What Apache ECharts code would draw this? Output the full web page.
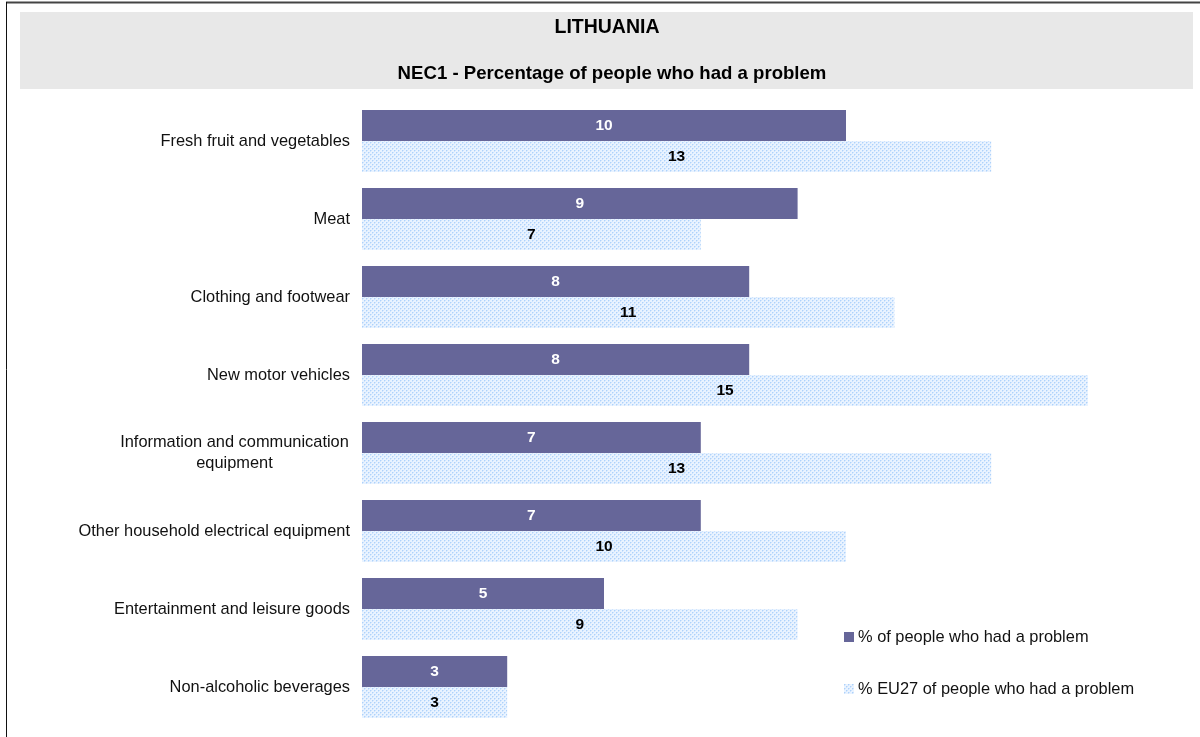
<!DOCTYPE html>
<html>
<head>
<meta charset="utf-8">
<style>
  html, body { margin: 0; padding: 0; background: #fff; }
  #chart { width: 1200px; height: 737px; }
</style>
<script src="https://cdn.jsdelivr.net/npm/echarts@6/dist/echarts.min.js"></script>
</head>
<body>
<div id="chart"></div>
<script>
// Product categories, top to bottom
const categories = [
  'Fresh fruit and vegetables',
  'Meat',
  'Clothing and footwear',
  'New motor vehicles',
  'Information and communication\nequipment',
  'Other household electrical equipment',
  'Entertainment and leisure goods',
  'Non-alcoholic beverages'
];
const seriesNames = ['% of people who had a problem', '% EU27 of people who had a problem'];
const countryValues = [10, 9, 8, 8, 7, 7, 5, 3];
const eu27Values = [13, 7, 11, 15, 13, 10, 9, 3];
const titleText = 'LITHUANIA';
const subtitleText = 'NEC1 - Percentage of people who had a problem';

const FONT = 'Arial, "Liberation Sans", sans-serif';

// Light blue dotted fill for the EU27 bars
function dotPattern() {
  const c = document.createElement('canvas');
  c.width = 4; c.height = 4;
  const g = c.getContext('2d');
  g.fillStyle = '#e9f3ff';
  g.fillRect(0, 0, 4, 4);
  g.fillStyle = '#aed2fb';
  g.fillRect(0, 0, 1, 1);
  g.fillRect(2, 2, 1, 1);
  g.fillStyle = '#cfe4fd';
  g.fillRect(1, 0, 1, 1);
  g.fillRect(3, 2, 1, 1);
  g.fillRect(0, 1, 1, 1);
  g.fillRect(2, 3, 1, 1);
  return c;
}

const chart = echarts.init(document.getElementById('chart'), null, { renderer: 'canvas' });

chart.setOption({
  animation: false,
  backgroundColor: '#ffffff',
  graphic: [
    { type: 'rect', shape: { x: 20, y: 12, width: 1173, height: 77 }, style: { fill: '#e8e8e8' }, z: -10 },
    { type: 'line', shape: { x1: 6, y1: 2.5, x2: 1200, y2: 2.5 }, style: { stroke: '#444', lineWidth: 2 } },
    { type: 'line', shape: { x1: 6.5, y1: 2, x2: 6.5, y2: 737 }, style: { stroke: '#111', lineWidth: 1 } },
    { type: 'text', x: 607, y: 28, style: { text: titleText, font: 'bold 19.5px ' + FONT, fill: '#000', align: 'center', verticalAlign: 'middle' } },
    { type: 'text', x: 612, y: 74, style: { text: subtitleText, font: 'bold 18.6px ' + FONT, fill: '#000', align: 'center', verticalAlign: 'middle' } }
  ],
  grid: { left: 362, top: 102, width: 774.4, height: 624, containLabel: false },
  xAxis: {
    type: 'value', min: 0, max: 16, show: false
  },
  yAxis: {
    type: 'category',
    inverse: true,
    data: categories,
    axisLine: { show: false },
    axisTick: { show: false },
    axisLabel: {
      margin: 12,
      color: '#111',
      fontFamily: FONT,
      fontSize: 16.4,
      lineHeight: 21,
      formatter: function (v) {
        if (v.indexOf('\n') >= 0) {
          return v.split('\n').map(function (s) { return '{c|' + s + '}'; }).join('\n');
        }
        return v;
      },
      rich: {
        c: { width: 231, align: 'center', fontFamily: FONT, fontSize: 16.4, color: '#111', lineHeight: 21 }
      }
    }
  },
  legend: {
    orient: 'vertical',
    left: 839,
    top: 623,
    itemWidth: 10,
    itemHeight: 10,
    itemGap: 34,
    icon: 'rect',
    textStyle: { fontFamily: FONT, fontSize: 16.4, lineHeight: 18, color: '#111', padding: [0, 0, 0, -1] },
    data: seriesNames
  },
  series: [
    {
      name: seriesNames[0],
      type: 'bar',
      data: countryValues,
      barWidth: 31,
      barGap: '0%',
      itemStyle: { color: '#666699' },
      label: {
        show: true, position: 'inside',
        color: '#fff', fontFamily: FONT, fontWeight: 'bold', fontSize: 15.5
      }
    },
    {
      name: seriesNames[1],
      type: 'bar',
      data: eu27Values,
      barWidth: 31,
      barGap: '0%',
      itemStyle: { color: { image: dotPattern(), repeat: 'repeat' } },
      label: {
        show: true, position: 'inside',
        color: '#000', fontFamily: FONT, fontWeight: 'bold', fontSize: 15.5
      }
    }
  ]
});
</script>
</body>
</html>
